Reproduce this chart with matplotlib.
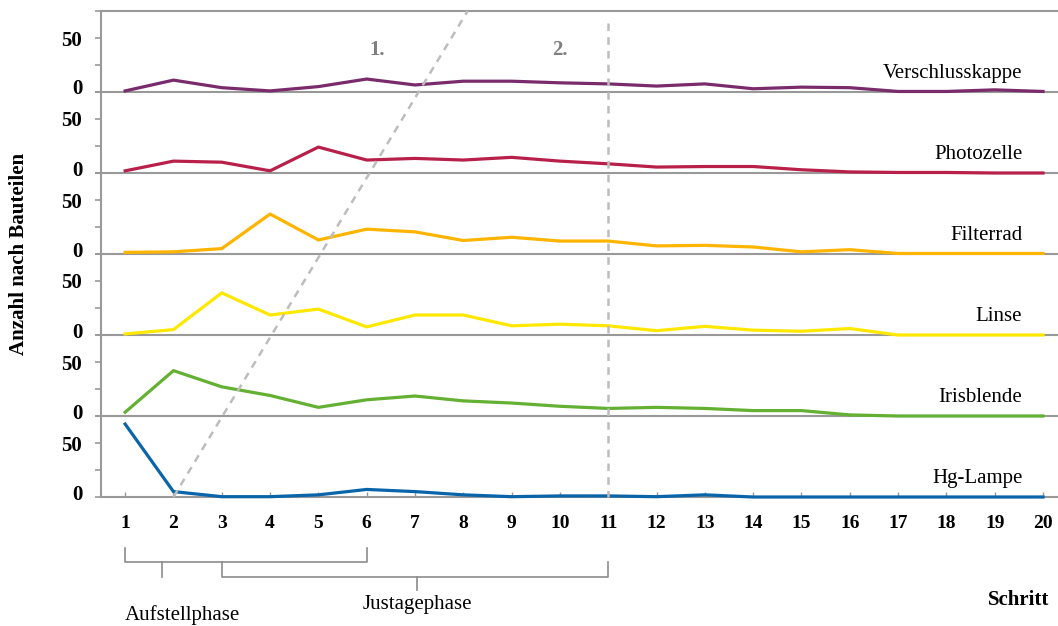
import matplotlib
matplotlib.use('Agg')
import matplotlib.pyplot as plt
from matplotlib.transforms import ScaledTranslation

plt.rcParams['font.family'] = ['Liberation Serif', 'DejaVu Serif']

# Daten: Anzahl nach Bauteilen je Schritt
steps = list(range(1, 21))
parts = ['Verschlusskappe', 'Photozelle', 'Filterrad', 'Linse', 'Irisblende', 'Hg-Lampe']
colors = ['#7A2B6C', '#B8204A', '#FFB400', '#FFE800', '#64B033', '#0A64AA']

verschlusskappe = [1, 11, 4, 1, 5, 12, 6.5, 10, 10, 8.5, 7.5, 5.5, 7.5, 3, 4.5, 4, 0.5, 0.5, 2, 0.5]
photozelle = [2, 11, 10, 2, 24, 12, 13.5, 12, 14.5, 11, 8.5, 5.5, 6, 6, 3, 1, 0.5, 0.5, 0, 0]
filterrad = [1.5, 2, 5, 37, 13, 23, 20.5, 12.5, 15.5, 12, 12, 7.5, 8, 6.5, 2, 4, 0.5, 0.5, 0.5, 0.5]
linse = [1, 5, 39, 18.5, 24, 7.5, 18.5, 18.5, 8.5, 10, 8.5, 4, 8, 4.5, 3.5, 6, 0, 0, 0, 0]
irisblende = [3.5, 42, 27, 19, 8, 15, 18.5, 14, 12, 9, 7, 8, 7, 5, 5, 1, 0, 0, 0, 0]
hg_lampe = [67.5, 5, 0.3, 0.3, 2, 7, 5, 2, 0.3, 1, 1, 0.3, 2, 0, 0, 0, 0, 0, 0, 0]
series = [verschlusskappe, photozelle, filterrad, linse, irisblende, hg_lampe]

W, H = 1058, 626
GRAY = '#999999'
left, right, top, bottom = 101 / W, 1.0, 1 - 11 / H, 1 - 497 / H
xmin, xmax = 0.5, 20.31

fig = plt.figure(figsize=(W / 100, H / 100), dpi=100)
axes = fig.subplots(6, 1, sharex=True,
                    gridspec_kw=dict(hspace=0, left=left, right=right, top=top, bottom=bottom))

for i, (ax, name, vals, col) in enumerate(zip(axes, parts, series, colors)):
    ax.plot(steps, vals, color=col, lw=2.3, clip_on=False, zorder=4)
    ax.set_ylim(0, 75)
    ax.set_xlim(xmin, xmax)
    ax.patch.set_alpha(0)
    for s in ['right']:
        ax.spines[s].set_visible(False)
    ax.spines['top'].set_visible(i == 0)
    for s in ['left', 'bottom', 'top']:
        ax.spines[s].set_color(GRAY)
        ax.spines[s].set_linewidth(1.5)
    ax.set_yticks([0, 25, 50, 75])
    ax.set_yticklabels(['0', '', '50', ''])
    ax.tick_params(axis='y', direction='out', length=4.5, width=1.2, color=GRAY,
                   pad=9, labelsize=15)
    for lab in ax.get_yticklabels():
        lab.set_fontweight('bold')
    t0 = ax.yaxis.get_major_ticks()[0].label1
    t0.set_transform(t0.get_transform() + ScaledTranslation(0, 5 / 100, fig.dpi_scale_trans))
    ax.text(19.57, 17, name, ha='right', va='center', fontsize=15, zorder=5)
    if i < 5:
        ax.tick_params(axis='x', bottom=False, labelbottom=False)

axb = axes[-1]
axb.set_xticks(steps)
axb.tick_params(axis='x', direction='in', length=3.5, width=1.0, color=GRAY,
                pad=13, labelsize=14)
for lab in axb.get_xticklabels():
    lab.set_fontweight('bold')

# Overlay für Hilfslinien und Beschriftungen (y in Bildzeilen)
ov = fig.add_axes([left, 0, right - left, 1], zorder=10)
ov.set_xlim(xmin, xmax)
ov.set_ylim(H, 0)
ov.axis('off')
ov.patch.set_alpha(0)

dash = dict(color='#BDBDBD', lw=1.8, dashes=(3, 2.5))
ov.plot([11, 11], [23, 497], **dash)
ov.plot([2, 8.09], [497, 11], **dash)
ov.text(6.22, 50, '1.', color='#7F7F7F', fontsize=15, fontweight='bold', ha='center', va='center')
ov.text(10.0, 50, '2.', color='#7F7F7F', fontsize=15, fontweight='bold', ha='center', va='center')

br = dict(color='#8C8C8C', lw=1.2)
ov.plot([1, 1, 6, 6], [548, 562, 562, 548], **br)
ov.plot([1.77, 1.77], [562, 577], **br)
ov.plot([3, 3, 11, 11], [562, 577, 577, 562], **br)
ov.plot([7.05, 7.05], [577, 590], **br)

ov.text(2.18, 615, 'Aufstellphase', ha='center', va='center', fontsize=15)
ov.text(7.05, 605, 'Justagephase', ha='center', va='center', fontsize=15)
ov.text(19.49, 600, 'Schritt', ha='center', va='center', fontsize=15, fontweight='bold')

fig.text(19 / W, 1 - 254 / H, 'Anzahl nach Bauteilen', rotation=90, ha='center', va='center',
         fontsize=15, fontweight='bold')

fig.savefig('out.png', dpi=100)
